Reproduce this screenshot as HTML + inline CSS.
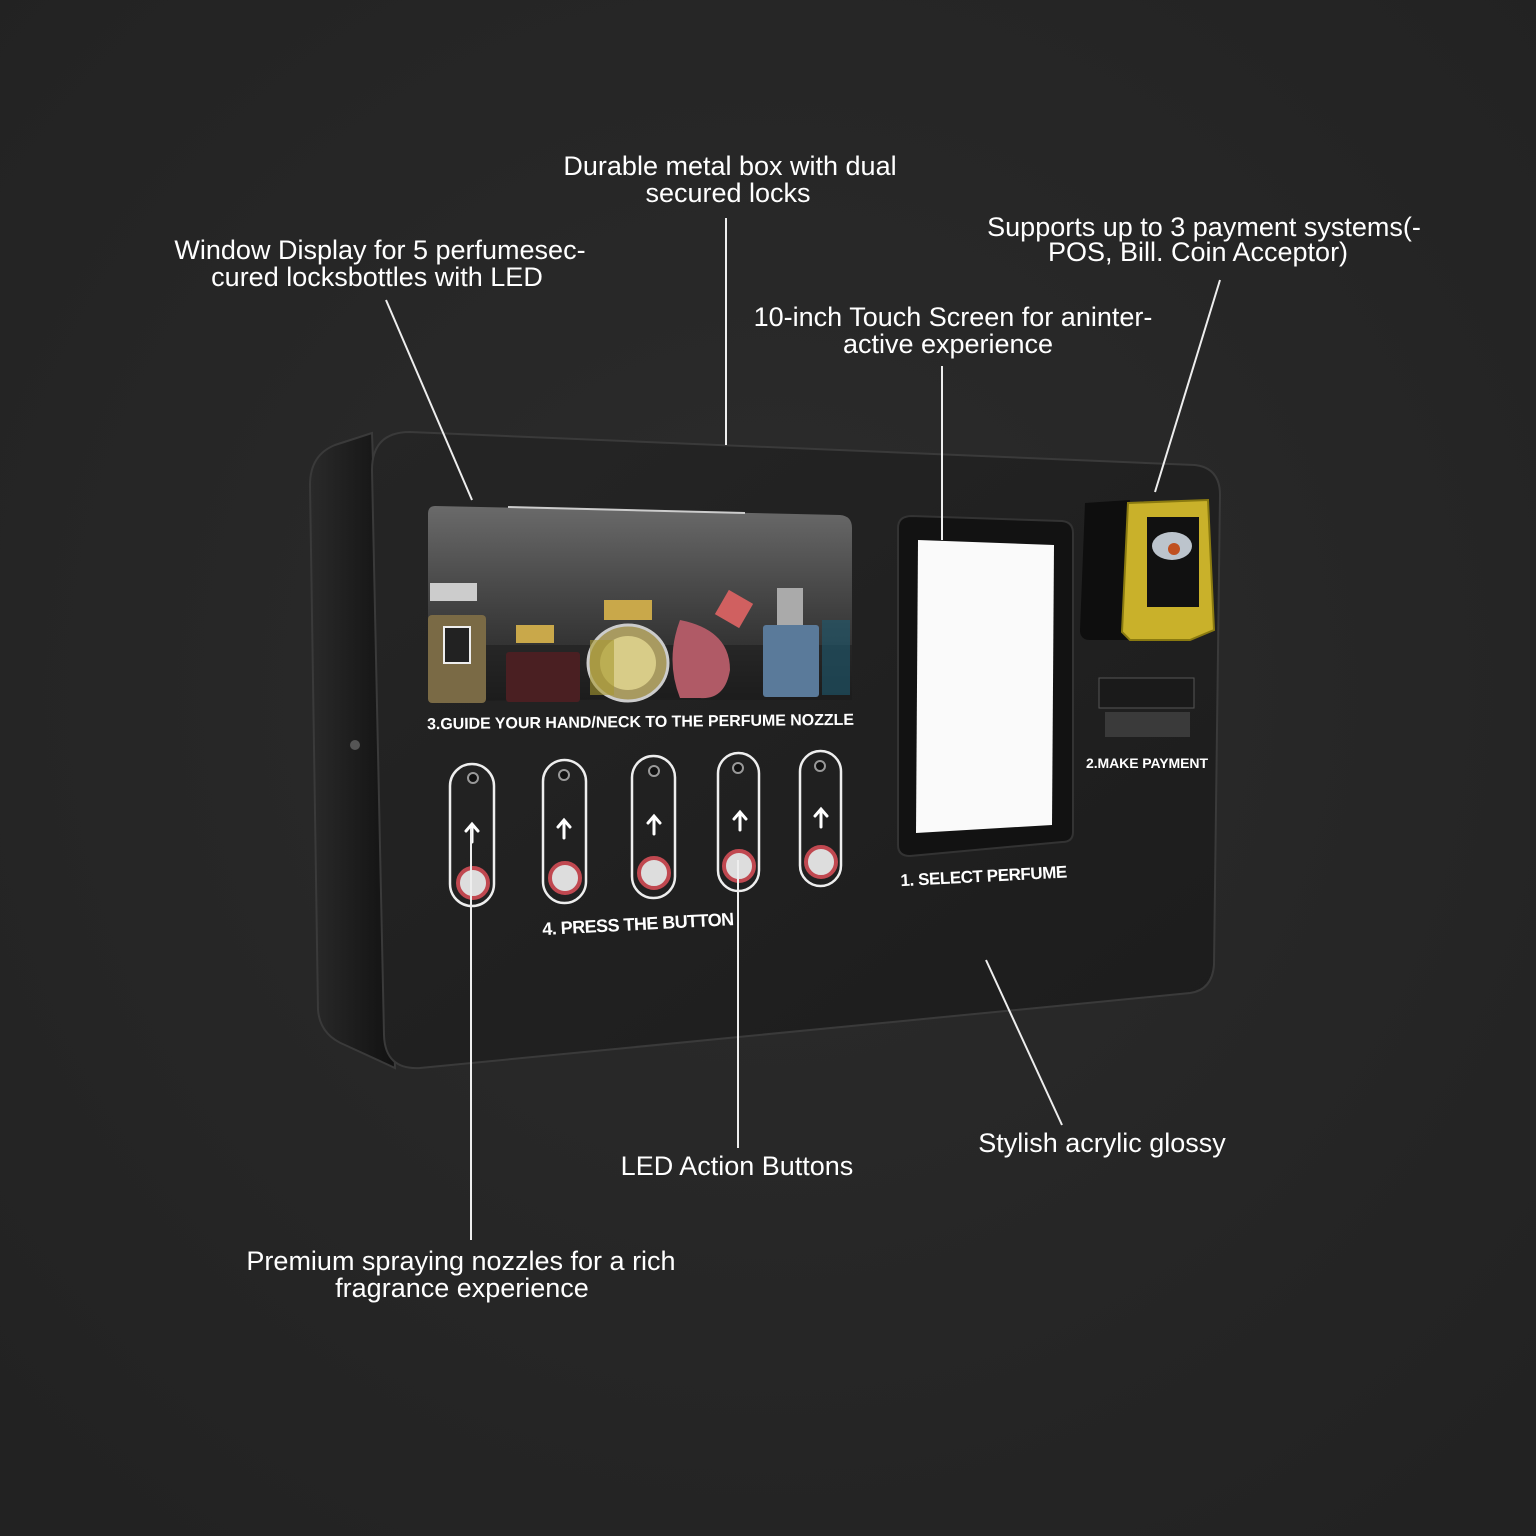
<!DOCTYPE html>
<html><head><meta charset="utf-8"><style>
html,body{margin:0;padding:0;background:#262626}
svg{display:block}
text{font-family:"Liberation Sans",sans-serif;fill:#fff}
</style></head><body>
<svg width="1536" height="1536" viewBox="0 0 1536 1536" xmlns="http://www.w3.org/2000/svg">
<defs>
<radialGradient id="bg" cx="50%" cy="45%" r="70%"><stop offset="0" stop-color="#2c2c2c"/><stop offset="1" stop-color="#222"/></radialGradient>
<linearGradient id="face" x1="0" y1="0" x2="1" y2="1"><stop offset="0" stop-color="#252525"/><stop offset="1" stop-color="#1c1c1c"/></linearGradient>
<linearGradient id="win" x1="0" y1="0" x2="0" y2="1"><stop offset="0" stop-color="#6a6a6a"/><stop offset="0.4" stop-color="#4a4a4a"/><stop offset="1" stop-color="#1e1e1e"/></linearGradient>
<linearGradient id="side" x1="0" y1="0" x2="1" y2="0"><stop offset="0" stop-color="#2a2a2a"/><stop offset="1" stop-color="#111"/></linearGradient>
</defs>
<rect width="1536" height="1536" fill="url(#bg)"/>
<path d="M372 433 L335 445 Q310 455 310 485 L318 1010 Q320 1035 345 1045 L395 1068 Z" fill="url(#side)" stroke="#3a3a3a" stroke-width="2"/>
<path d="M410 432 L1195 465 Q1220 468 1220 495 L1214 965 Q1212 990 1190 993 L420 1068 Q385 1070 384 1035 L372 470 Q372 432 410 432 Z" fill="url(#face)" stroke="#3a3a3a" stroke-width="2"/>
<path d="M435 506 L840 515 Q852 516 852 528 L852 688 Q852 695 840 695 L435 702 Q428 702 428 695 L428 514 Q428 506 435 506 Z" fill="url(#win)"/>
<line x1="508" y1="507" x2="745" y2="513" stroke="#ccc" stroke-width="2"/>
<rect x="428" y="645" width="424" height="55" fill="#1a1a1a" opacity="0.5"/>
<rect x="430" y="583" width="47" height="18" fill="#ccc"/>
<rect x="428" y="615" width="58" height="88" rx="4" fill="#7a6a45"/>
<rect x="444" y="627" width="26" height="36" fill="#222" stroke="#eee" stroke-width="2"/>
<rect x="516" y="625" width="38" height="18" fill="#c9a84a"/>
<rect x="506" y="652" width="74" height="50" rx="3" fill="#4a1f22"/>
<rect x="604" y="600" width="48" height="20" fill="#c9a84a"/>
<ellipse cx="628" cy="663" rx="40" ry="38" fill="#a89a60" stroke="#ccc" stroke-width="3"/>
<ellipse cx="628" cy="663" rx="28" ry="27" fill="#d8cc88"/>
<path d="M680 620 Q730 630 730 670 Q725 700 700 698 L680 698 Q665 660 680 620 Z" fill="#b05a66"/>
<rect x="720" y="595" width="28" height="28" fill="#d06060" transform="rotate(30 734 609)"/>
<rect x="777" y="588" width="26" height="40" fill="#aaa"/>
<rect x="763" y="625" width="56" height="72" rx="3" fill="#5a7a9a"/>
<rect x="590" y="640" width="24" height="55" fill="#a89a30" opacity="0.6"/>
<rect x="822" y="620" width="28" height="75" fill="#1e5a70" opacity="0.6"/>
<text x="427" y="727" font-size="16" font-weight="bold" textLength="427" transform="rotate(-0.6 640 720)">3.GUIDE YOUR HAND/NECK TO THE PERFUME NOZZLE</text>
<path d="M912 516 L1062 521 Q1073 522 1073 533 L1073 832 Q1073 842 1062 842 L910 856 Q898 856 898 845 L898 528 Q898 516 912 516 Z" fill="#121212" stroke="#333" stroke-width="2"/>
<path d="M918 540 L1054 545 L1052 825 L916 833 Z" fill="#fafafa"/>
<text x="900" y="882" font-size="17" font-weight="bold" textLength="167" transform="rotate(-3 980 870)">1. SELECT PERFUME</text>
<path d="M1085 503 L1130 500 L1130 640 L1090 640 Q1080 640 1080 630 Z" fill="#0e0e0e"/>
<path d="M1128 503 L1208 500 L1214 630 L1190 640 L1130 640 L1122 632 Z" fill="#c9b12a" stroke="#8a7a10" stroke-width="2"/>
<rect x="1147" y="517" width="52" height="90" fill="#111"/>
<ellipse cx="1172" cy="546" rx="20" ry="14" fill="#bcc4cc"/>
<circle cx="1174" cy="549" r="6" fill="#c05020"/>
<rect x="1099" y="678" width="95" height="30" fill="#1a1a1a" stroke="#555"/>
<rect x="1105" y="712" width="85" height="25" fill="#3a3a3a"/>
<text x="1086" y="768" font-size="14" font-weight="bold" textLength="122">2.MAKE PAYMENT</text>
<g fill="none" stroke="#eee" stroke-width="2.5">
<rect x="450" y="764" width="44" height="142" rx="22"/>
<rect x="543" y="760" width="43" height="143" rx="21.5"/>
<rect x="632" y="756" width="43" height="142" rx="21.5"/>
<rect x="718" y="753" width="41" height="138" rx="20.5"/>
<rect x="800" y="751" width="41" height="135" rx="20.5"/>
</g>
<g fill="#ddd" stroke="#c04850" stroke-width="4">
<circle cx="473" cy="883" r="15"/><circle cx="565" cy="878" r="15"/><circle cx="654" cy="873" r="15"/><circle cx="739" cy="866" r="15"/><circle cx="821" cy="862" r="15"/>
</g>
<g fill="#111" stroke="#999" stroke-width="2">
<circle cx="473" cy="778" r="5"/><circle cx="564" cy="775" r="5"/><circle cx="654" cy="771" r="5"/><circle cx="738" cy="768" r="5"/><circle cx="820" cy="766" r="5"/>
</g>
<g stroke="#fff" stroke-width="3" fill="none" stroke-linecap="round">
<path d="M472 842 V825 M466 831 L472 824 L478 831"/>
<path d="M564 838 V821 M558 827 L564 820 L570 827"/>
<path d="M654 834 V817 M648 823 L654 816 L660 823"/>
<path d="M740 830 V813 M734 819 L740 812 L746 819"/>
<path d="M821 827 V810 M815 816 L821 809 L827 816"/>
</g>
<text x="542" y="930" font-size="18" font-weight="bold" textLength="192" transform="rotate(-3 640 920)">4. PRESS THE BUTTON</text>
<circle cx="355" cy="745" r="5" fill="#555"/>
<g stroke="#eee" stroke-width="2">
<line x1="386" y1="300" x2="472" y2="500"/>
<line x1="726" y1="218" x2="726" y2="445"/>
<line x1="942" y1="366" x2="942" y2="540"/>
<line x1="1220" y1="280" x2="1155" y2="492"/>
<line x1="471" y1="828" x2="471" y2="1240"/>
<line x1="738" y1="860" x2="738" y2="1148"/>
<line x1="986" y1="960" x2="1062" y2="1125"/>
</g>
<g font-size="27" text-anchor="middle">
<text x="730" y="175">Durable metal box with dual</text>
<text x="728" y="202">secured locks</text>
<text x="380" y="259">Window Display for 5 perfumesec-</text>
<text x="377" y="286">cured locksbottles with LED</text>
<text x="1204" y="236">Supports up to 3 payment systems(-</text>
<text x="1198" y="261">POS, Bill. Coin Acceptor)</text>
<text x="953" y="326">10-inch Touch Screen for aninter-</text>
<text x="948" y="353">active experience</text>
<text x="1102" y="1152">Stylish acrylic glossy</text>
<text x="737" y="1175">LED Action Buttons</text>
<text x="461" y="1270">Premium spraying nozzles for a rich</text>
<text x="462" y="1297">fragrance experience</text>
</g>
</svg>
</body></html>
